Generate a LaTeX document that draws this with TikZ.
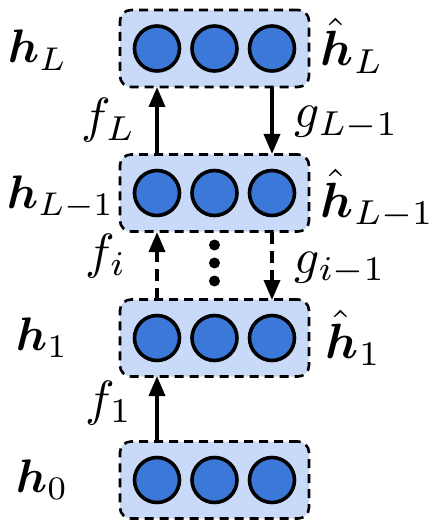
\documentclass[tikz,border=0pt]{standalone}
\usepackage{amsmath,bm}
\usetikzlibrary{arrows.meta}
\definecolor{boxfill}{RGB}{201,218,248}
\definecolor{unitfill}{RGB}{60,120,216}
\begin{document}
\begin{tikzpicture}[x=1pt,y=-1pt,
  layerbox/.style={draw=black, fill=boxfill, line width=2.6pt, dash pattern=on 9pt off 6pt, rounded corners=11pt, minimum width=189pt, minimum height=77pt, inner sep=0pt},
  unit/.style={circle, draw=black, fill=unitfill, line width=3.6pt, minimum size=45pt, inner sep=0pt},
  lbl/.style={anchor=base west, inner sep=0pt, scale=4.95},
  hlbl/.style={anchor=base west, inner sep=0pt, scale=4.7},
  conn/.style={line width=3.6pt, -{Triangle[length=20pt,width=16pt]}},
  dconn/.style={conn, dash pattern=on 12pt off 7pt},
  dot/.style={circle, fill=black, minimum size=11pt, inner sep=0pt}
]
\useasboundingbox (0,0) rectangle (446,529);
% layer boxes
\node[layerbox] (bL) at (214.5,48.5) {};
\node[layerbox] (bL1) at (214.5,193) {};
\node[layerbox] (b1) at (214.5,338) {};
\node[layerbox] (b0) at (214.5,480) {};
% units
\foreach \b/\y in {L/48.5,La/193,one/338,zero/480}{
  \node[unit] (u\b a) at (157,\y) {};
  \node[unit] (u\b b) at (214.5,\y) {};
  \node[unit] (u\b c) at (272,\y) {};
}
% connectors
\coordinate (fLs) at (157,154);
\coordinate (fLe) at (157,87);
\coordinate (gLs) at (272,87);
\coordinate (gLe) at (272,154);
\coordinate (fis) at (157,300);
\coordinate (fie) at (157,232);
\coordinate (gis) at (272,232);
\coordinate (gie) at (272,300);
\coordinate (f1s) at (157,442);
\coordinate (f1e) at (157,376);
\draw[conn] (fLs) -- (fLe);
\draw[conn] (gLs) -- (gLe);
\draw[dconn] (fis) -- (fie);
\draw[dconn] (gis) -- (gie);
\draw[conn] (f1s) -- (f1e);
% dots
\node[dot] (d1) at (214.5,245) {};
\node[dot] (d2) at (214.5,263) {};
\node[dot] (d3) at (214.5,281) {};
% labels
\node[hlbl] (hL) at (7,63) {$\bm{h}_L$};
\node[hlbl] (hL1) at (6,208) {$\bm{h}_{L-1}$};
\node[hlbl] (h1) at (15,350) {$\bm{h}_1$};
\node[hlbl] (h0) at (15,492) {$\bm{h}_0$};
\node[lbl] (hhL) at (320,66) {$\hat{\bm{h}}_L$};
\node[lbl] (hhL1) at (320,217) {$\hat{\bm{h}}_{L-1}$};
\node[lbl] (hh1) at (325,358) {$\hat{\bm{h}}_1$};
\node[lbl] (fL) at (81,133) {$f_L$};
\node[lbl] (fi) at (85,268) {$f_i$};
\node[lbl] (f1) at (85,415) {$f_1$};
\node[lbl] (gL) at (294,128) {$g_{L-1}$};
\node[lbl] (gi) at (294,273) {$g_{i-1}$};
\end{tikzpicture}
\end{document}
